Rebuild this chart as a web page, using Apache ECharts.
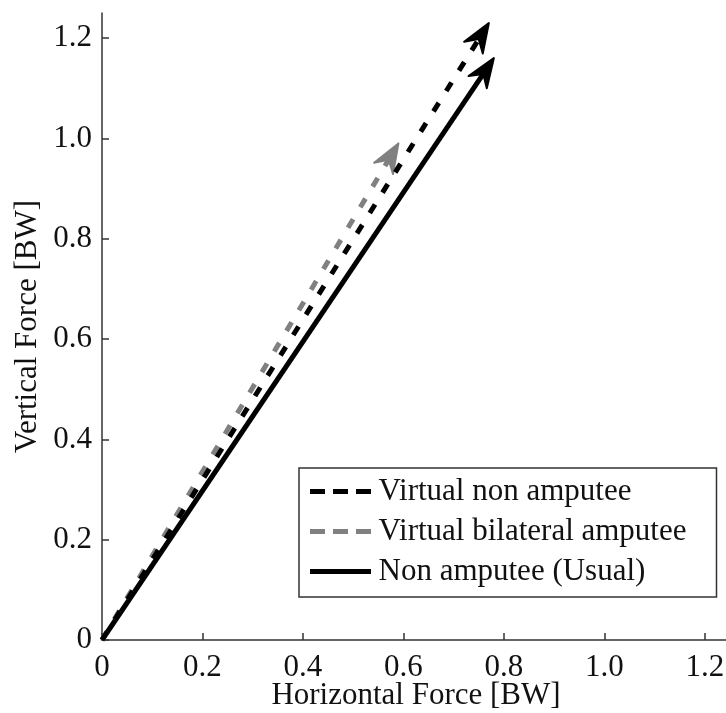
<!DOCTYPE html>
<html>
<head>
<meta charset="utf-8">
<script src="https://cdn.jsdelivr.net/npm/echarts@6/dist/echarts.min.js"></script>
<style>
  html, body { margin: 0; padding: 0; background: #fff; }
  #chart { width: 726px; height: 713px; }
</style>
</head>
<body>
<div id="chart"></div>
<script>
// Resultant ground force vectors, in body weights
const seriesNames = ['Virtual non amputee', 'Virtual bilateral amputee', 'Non amputee (Usual)'];
const startX = [0, 0, 0];
const startY = [0, 0, 0];
const endX = [0.77, 0.59, 0.78];
const endY = [1.23, 0.99, 1.16];

const xTicks = [0, 0.2, 0.4, 0.6, 0.8, 1.0, 1.2];
const xTickLabels = ['0', '0.2', '0.4', '0.6', '0.8', '1.0', '1.2'];
const yTicks = [0, 0.2, 0.4, 0.6, 0.8, 1.0, 1.2];
const yTickLabels = ['0', '0.2', '0.4', '0.6', '0.8', '1.0', '1.2'];

const FONT = '"Liberation Serif", "Times New Roman", serif';
const colors = ['#000000', '#808080', '#000000'];
const dashes = [[10, 14], [10, 14], null];
const drawOrder = [3, 2, 1];

function lookup(ticks, labels) {
  return function (v) {
    for (let i = 0; i < ticks.length; i++) {
      if (Math.abs(ticks[i] - v) < 1e-9) return labels[i];
    }
    return '';
  };
}

// Arrow: dashed or solid shaft with a swept-back filled head at the end point
function makeArrowRenderer(idx) {
  return function (params, api) {
    const o = api.coord([api.value(0), api.value(1)]);
    const t = api.coord([api.value(2), api.value(3)]);
    const dx = t[0] - o[0], dy = t[1] - o[1];
    const len = Math.hypot(dx, dy);
    const ux = dx / len, uy = dy / len;
    const px = -uy, py = ux;
    const L = 29, W = 11, N = 19;
    const bx = t[0] - ux * L, by = t[1] - uy * L;
    const nx = t[0] - ux * N, ny = t[1] - uy * N;
    const shaftStyle = { stroke: colors[idx], lineWidth: 5, fill: null };
    if (dashes[idx]) shaftStyle.lineDash = dashes[idx];
    return {
      type: 'group',
      children: [
        {
          type: 'line',
          shape: { x1: o[0], y1: o[1], x2: nx + ux * 3, y2: ny + uy * 3 },
          style: shaftStyle
        },
        {
          type: 'polygon',
          shape: { points: [[t[0], t[1]], [bx + px * W, by + py * W], [nx, ny], [bx - px * W, by - py * W]] },
          style: { fill: colors[idx], stroke: colors[idx], lineWidth: 2, lineJoin: 'round' }
        }
      ]
    };
  };
}

const series = seriesNames.map(function (name, i) {
  return {
    type: 'custom',
    name: name,
    coordinateSystem: 'cartesian2d',
    renderItem: makeArrowRenderer(i),
    itemStyle: { color: colors[i] },
    data: [[startX[i], startY[i], endX[i], endY[i]]],
    encode: { x: [0, 2], y: [1, 3] },
    z: drawOrder[i],
    silent: true,
    clip: false
  };
});

const dashIcon = 'path://M0,0h15v5h-15zM23,0h15v5h-15zM46,0h15v5h-15z';
const solidIcon = 'path://M0,0h61v5h-61z';
const legendIcons = [dashIcon, dashIcon, solidIcon];

const axisText = { fontFamily: FONT, fontSize: 31, color: '#111' };

const option = {
  animation: false,
  backgroundColor: '#fff',
  grid: { left: 102, top: 13, width: 628, height: 627, containLabel: false, outerBoundsMode: 'none' },
  xAxis: {
    type: 'value',
    min: 0,
    max: 1.25,
    name: 'Horizontal Force [BW]',
    nameLocation: 'middle',
    nameGap: 40,
    nameMoveOverlap: false,
    nameTextStyle: axisText,
    axisLine: { onZero: false, lineStyle: { color: '#333', width: 1.5 } },
    axisTick: { inside: true, length: 7, customValues: xTicks, lineStyle: { color: '#333', width: 1.5 } },
    axisLabel: Object.assign({ customValues: xTicks, formatter: lookup(xTicks, xTickLabels), margin: 12 }, axisText),
    splitLine: { show: false }
  },
  yAxis: {
    type: 'value',
    min: 0,
    max: 1.25,
    name: 'Vertical Force [BW]',
    nameLocation: 'middle',
    nameGap: 59,
    nameMoveOverlap: false,
    nameTextStyle: axisText,
    axisLine: { onZero: false, lineStyle: { color: '#333', width: 1.5 } },
    axisTick: { inside: true, length: 7, customValues: yTicks, lineStyle: { color: '#333', width: 1.5 } },
    axisLabel: Object.assign({ customValues: yTicks, formatter: lookup(yTicks, yTickLabels), margin: 10 }, axisText),
    splitLine: { show: false }
  },
  legend: {
    orient: 'vertical',
    left: 299,
    top: 468,
    padding: [7, 30, 9, 11],
    itemGap: 7,
    itemWidth: 62,
    itemHeight: 5,
    backgroundColor: '#fff',
    borderColor: '#333',
    borderWidth: 1.5,
    borderRadius: 0,
    selectedMode: false,
    textStyle: { fontFamily: FONT, fontSize: 31, color: '#111', lineHeight: 33, padding: [0, 0, 0, 2] },
    data: seriesNames.map(function (name, i) {
      return { name: name, icon: legendIcons[i], itemStyle: { color: colors[i] } };
    })
  },
  series: series
};

const chart = echarts.init(document.getElementById('chart'), null, { renderer: 'canvas' });
chart.setOption(option);
</script>
</body>
</html>
